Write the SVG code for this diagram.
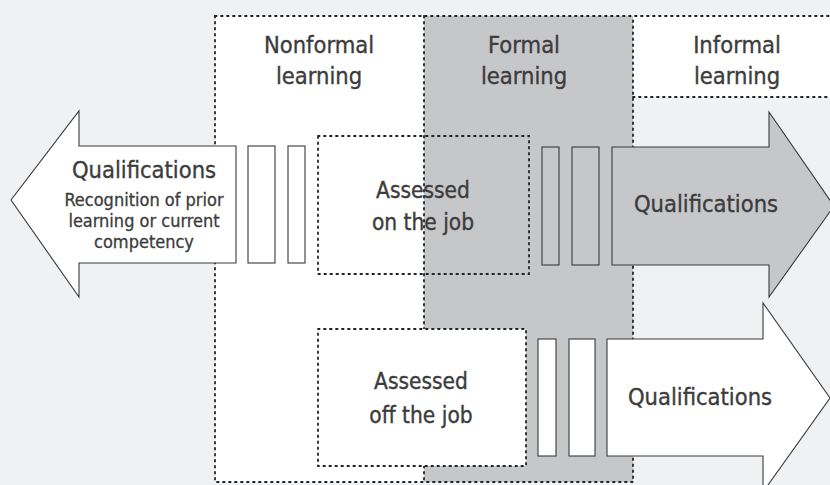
<svg xmlns="http://www.w3.org/2000/svg" width="830" height="485" viewBox="0 0 830 485">
  <style>
    .dot { fill: none; stroke: #222; stroke-width: 1.8; stroke-dasharray: 1.6 4.4; stroke-linecap: round; }
    .solid { stroke: #3a3a3a; stroke-width: 1.1; }
    .lbl { font-family: "DejaVu Sans Condensed", "DejaVu Sans", sans-serif; font-stretch: condensed; fill: #3c3c3c; stroke: #3c3c3c; stroke-width: 0.35; text-anchor: middle; }
    .head { font-size: 23.5px; }
    .big { font-size: 23.5px; }
    .mid { font-size: 22.5px; }
    .small { font-size: 18px; stroke-width: 0.3; }
  </style>
  <rect width="830" height="485" fill="#f0f1f3"/>

  <!-- learning zones -->
  <g id="zone-nonformal">
    <rect x="215" y="16" width="209" height="466" fill="#ffffff"/>
    <text class="lbl head" x="319" y="53">Nonformal</text>
    <text class="lbl head" x="319" y="84">learning</text>
  </g>
  <g id="zone-formal">
    <rect x="424" y="16" width="209" height="466" fill="#c6c7c9"/>
    <text class="lbl head" x="524" y="53">Formal</text>
    <text class="lbl head" x="524" y="84">learning</text>
  </g>
  <g id="zone-informal">
    <rect x="633" y="16" width="197" height="81" fill="#ffffff"/>
    <text class="lbl head" x="737" y="53">Informal</text>
    <text class="lbl head" x="737" y="84">learning</text>
  </g>

  <!-- zone borders -->
  <g id="zone-borders">
    <path class="dot" d="M215,16 H830"/>
    <path class="dot" d="M215,16 V482 H633 V16"/>
    <path class="dot" d="M424,16 V482"/>
    <path class="dot" d="M633,97 H830"/>
  </g>

  <!-- assessment boxes -->
  <g id="assessed-on">
    <rect class="dot" x="318" y="136" width="211" height="138"/>
    <text class="lbl mid" x="423" y="198">Assessed</text>
    <text class="lbl mid" x="423" y="230">on the job</text>
  </g>
  <g id="assessed-off">
    <rect x="318" y="329" width="208" height="137" fill="#ffffff"/>
    <rect class="dot" x="318" y="329" width="208" height="137"/>
    <text class="lbl mid" x="421" y="389">Assessed</text>
    <text class="lbl mid" x="421" y="423">off the job</text>
  </g>

  <!-- connectors: bars and qualification arrows -->
  <g id="connectors">
    <rect class="solid" x="248" y="146" width="27" height="117" fill="#ffffff"/>
    <rect class="solid" x="288" y="146" width="17" height="117" fill="#ffffff"/>
    <rect class="solid" x="542" y="147" width="17" height="118" fill="#c6c7c9"/>
    <rect class="solid" x="572" y="147" width="27" height="118" fill="#c6c7c9"/>
    <rect class="solid" x="538" y="339" width="18" height="117" fill="#ffffff"/>
    <rect class="solid" x="569" y="339" width="26" height="117" fill="#ffffff"/>
  </g>

  <g id="arrow-left">
    <path class="solid" fill="#ffffff" d="M236,146 H79 V111 L11,200 L79,297 V263 H236 Z"/>
    <text class="lbl big" x="144" y="178">Qualifications</text>
    <text class="lbl small" x="144" y="206">Recognition of prior</text>
    <text class="lbl small" x="144" y="227">learning or current</text>
    <text class="lbl small" x="144" y="248">competency</text>
  </g>

  <g id="arrow-right-top">
    <path class="solid" fill="#c6c7c9" d="M612,147 H769 V112 L834,206 L769,297 V265 H612 Z"/>
    <text class="lbl big" x="706" y="212">Qualifications</text>
  </g>

  <g id="arrow-right-bottom">
    <path class="solid" fill="#ffffff" d="M607,339 H763 V303 L830,398 L763,492 V456 H607 Z"/>
    <text class="lbl big" x="700" y="405">Qualifications</text>
  </g>
</svg>
